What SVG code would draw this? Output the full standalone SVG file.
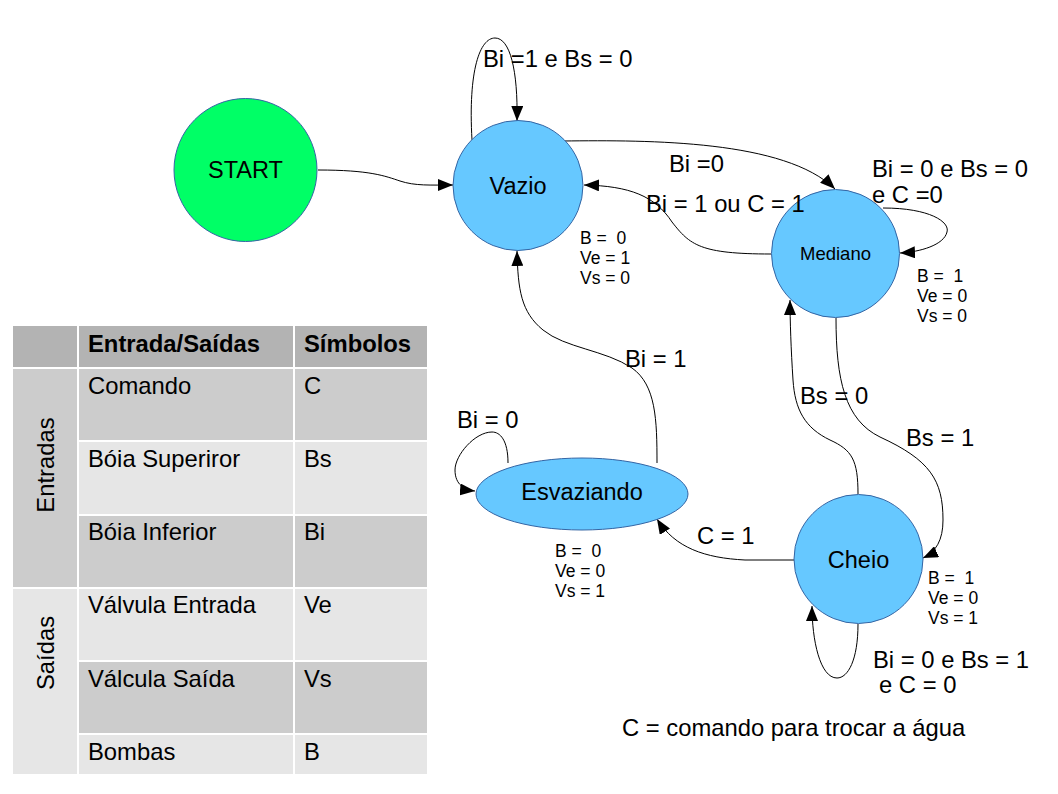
<svg xmlns="http://www.w3.org/2000/svg" width="1058" height="794" viewBox="0 0 1058 794">
<style>
text{font-family:"Liberation Sans",Arial,sans-serif;fill:#000}
.lbl{font-size:23.8px}
.st{font-size:23.5px;text-anchor:middle}
.val{font-size:17.5px;white-space:pre}
.tb{font-size:23.8px}
.th{font-size:23.8px;font-weight:bold}
.node{fill:#66c8ff;stroke:#3465a4;stroke-width:1}
.edge{fill:none;stroke:#000;stroke-width:1;marker-end:url(#arr)}
</style>
<defs>
<marker id="arr" markerUnits="userSpaceOnUse" markerWidth="16" markerHeight="12" refX="15" refY="6" orient="auto">
<path d="M0,0 L15,6 L0,12 Z" fill="#000"/>
</marker>
</defs>
<rect width="1058" height="794" fill="#fff"/>

<g id="table">
<rect x="13" y="326" width="414" height="448" fill="#fff"/>
<rect x="13" y="326" width="64" height="41" fill="#b3b3b3"/>
<rect x="79" y="326" width="214" height="41" fill="#b3b3b3"/>
<rect x="295" y="326" width="132" height="41" fill="#b3b3b3"/>
<rect x="13" y="369" width="64" height="218" fill="#cccccc"/>
<rect x="13" y="589" width="64" height="185" fill="#e6e6e6"/>
<rect x="79" y="369" width="214" height="71" fill="#cccccc"/>
<rect x="295" y="369" width="132" height="71" fill="#cccccc"/>
<rect x="79" y="442" width="214" height="72" fill="#e6e6e6"/>
<rect x="295" y="442" width="132" height="72" fill="#e6e6e6"/>
<rect x="79" y="516" width="214" height="71" fill="#cccccc"/>
<rect x="295" y="516" width="132" height="71" fill="#cccccc"/>
<rect x="79" y="589" width="214" height="71" fill="#e6e6e6"/>
<rect x="295" y="589" width="132" height="71" fill="#e6e6e6"/>
<rect x="79" y="662" width="214" height="71" fill="#cccccc"/>
<rect x="295" y="662" width="132" height="71" fill="#cccccc"/>
<rect x="79" y="735" width="214" height="39" fill="#e6e6e6"/>
<rect x="295" y="735" width="132" height="39" fill="#e6e6e6"/>
<text class="th" x="88" y="352">Entrada/Saídas</text>
<text class="th" x="304" y="352">Símbolos</text>
<text class="tb" x="88" y="394">Comando</text>
<text class="tb" x="304" y="394">C</text>
<text class="tb" x="88" y="467">Bóia Superiror</text>
<text class="tb" x="304" y="467">Bs</text>
<text class="tb" x="88" y="540">Bóia Inferior</text>
<text class="tb" x="304" y="540">Bi</text>
<text class="tb" x="88" y="613">Válvula Entrada</text>
<text class="tb" x="304" y="613">Ve</text>
<text class="tb" x="88" y="687">Válcula Saída</text>
<text class="tb" x="304" y="687">Vs</text>
<text class="tb" x="88" y="760">Bombas</text>
<text class="tb" x="304" y="760">B</text>
<text class="tb" text-anchor="middle" transform="translate(54,465) rotate(-90)">Entradas</text>
<text class="tb" text-anchor="middle" transform="translate(54,653) rotate(-90)">Saídas</text>
</g>

<g id="connectors">
<path class="edge" d="M318,170 C370,170 385,176 400,181 C415,186 430,185 453,185"/>
<path class="edge" d="M472,140 C468,70 480,38 495,38 C510,38 518,70 517,121"/>
<path class="edge" d="M563,141 C650,140 785,140 835,189"/>
<path class="edge" d="M771,254 C700,254 690,245 672,222 C655,196 630,186 584,185"/>
<path class="edge" d="M883,208 C930,208 950,222 947,232 C944,245 920,252 900,253"/>
<path class="edge" d="M836,318 C836,380 845,420 880,437 C930,460 943,480 943,520 C943,540 936,552 923,558"/>
<path class="edge" d="M858,494 C858,460 852,450 830,440 C805,428 795,410 793,380 C791,350 790,320 790,300"/>
<path class="edge" d="M794,560 L745,560 C705,558 675,548 657,519"/>
<path class="edge" d="M657,463 C657,420 656,385 632,368 C605,350 565,348 543,330 C521,312 518,290 517,251"/>
<path class="edge" d="M508,463 C508,440 500,432 492,432 C475,432 455,455 455,470 C455,485 465,490 475,491"/>
<path class="edge" d="M858,624 C858,660 848,678 837,678 C820,678 812,640 812,606"/>
</g>

<g id="start">
<circle cx="245.5" cy="170" r="71.5" fill="#00ff66" stroke="#3465a4" stroke-width="1"/>
<text class="st" x="245.5" y="178">START</text>
</g>
<g id="vazio">
<circle class="node" cx="518" cy="185.5" r="65"/>
<text class="st" x="518" y="194">Vazio</text>
<text class="val" x="580" y="244" xml:space="preserve">B =  0</text>
<text class="val" x="580" y="264">Ve = 1</text>
<text class="val" x="580" y="284">Vs = 0</text>
</g>
<g id="mediano">
<circle class="node" cx="835.5" cy="253.5" r="64"/>
<text x="835.5" y="260" font-size="18.5" text-anchor="middle">Mediano</text>
<text class="val" x="917" y="282" xml:space="preserve">B =  1</text>
<text class="val" x="917" y="302">Ve = 0</text>
<text class="val" x="917" y="322">Vs = 0</text>
</g>
<g id="cheio">
<circle class="node" cx="858.5" cy="559" r="64.5"/>
<text class="st" x="858.5" y="568">Cheio</text>
<text class="val" x="928" y="584" xml:space="preserve">B =  1</text>
<text class="val" x="928" y="604">Ve = 0</text>
<text class="val" x="928" y="624">Vs = 1</text>
</g>
<g id="esvaziando">
<ellipse class="node" cx="582" cy="494" rx="106" ry="36"/>
<text class="st" x="582" y="500">Esvaziando</text>
<text class="val" x="555" y="557" xml:space="preserve">B =  0</text>
<text class="val" x="555" y="577">Ve = 0</text>
<text class="val" x="555" y="597">Vs = 1</text>
</g>

<g id="labels">
<text class="lbl" x="483" y="67">Bi =1 e Bs = 0</text>
<text class="lbl" x="669" y="172">Bi =0</text>
<text class="lbl" x="646" y="212">Bi = 1 ou C = 1</text>
<text class="lbl" x="872" y="177">Bi = 0 e Bs = 0</text>
<text class="lbl" x="872" y="203">e C =0</text>
<text class="lbl" x="625" y="367">Bi = 1</text>
<text class="lbl" x="457" y="428">Bi = 0</text>
<text class="lbl" x="800" y="404">Bs = 0</text>
<text class="lbl" x="906" y="446">Bs = 1</text>
<text class="lbl" x="697" y="544">C = 1</text>
<text class="lbl" x="873" y="668">Bi = 0 e Bs = 1</text>
<text class="lbl" x="879" y="693">e C = 0</text>
<text class="lbl" x="622" y="736">C = comando para trocar a água</text>
</g>
</svg>
